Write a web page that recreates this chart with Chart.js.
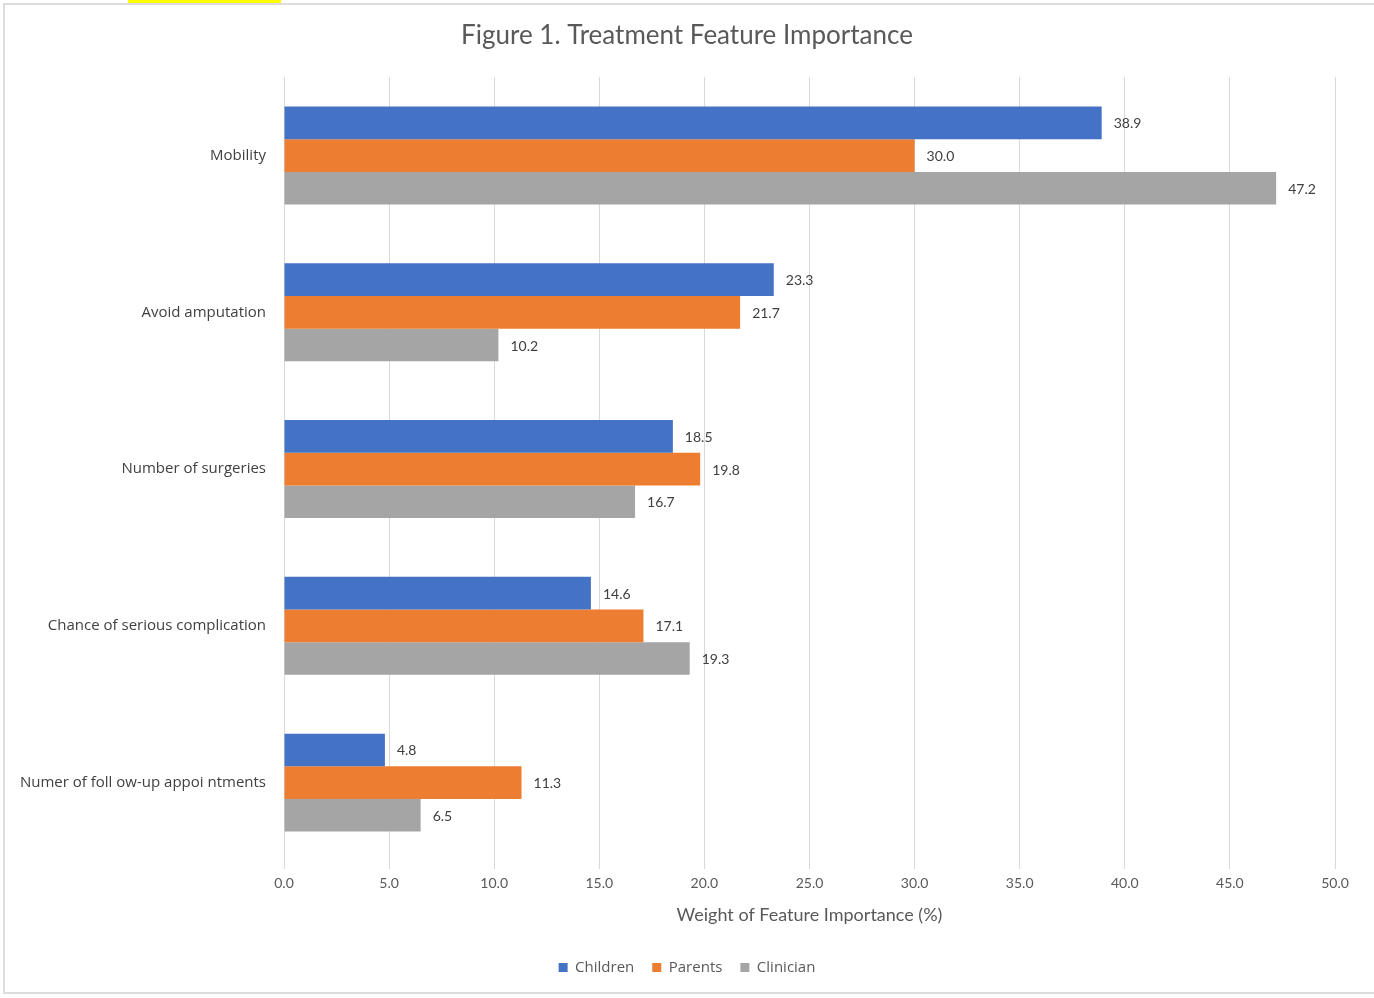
<!DOCTYPE html>
<html>
<head>
<meta charset="utf-8">
<script src="https://cdn.jsdelivr.net/npm/chart.js@4"></script>
<style>
    body { margin: 0; background: #fff; }
    #frame { position: absolute; left: 3px; top: 3px; width: 1372px; height: 991px; border: 2px solid #dcdcdc; border-right: none; box-sizing: border-box; }
    #mark { position: absolute; left: 128px; top: 0; width: 153px; height: 3px; background: #ffff00; }
    #wrap { position: absolute; left: 0; top: 0; width: 1374px; height: 998px; }
</style>
</head>
<body>
<div id="frame"></div>
<div id="mark"></div>
<div id="wrap"><canvas id="chart"></canvas></div>
<script>
const categories = ['Mobility', 'Avoid amputation', 'Number of surgeries', 'Chance of serious complication', 'Numer of foll ow-up appoi ntments'];
const children = [38.9, 23.3, 18.5, 14.6, 4.8];
const parents = [30.0, 21.7, 19.8, 17.1, 11.3];
const clinician = [47.2, 10.2, 16.7, 19.3, 6.5];

const FONT = 'Lato, "Open Sans", sans-serif';
const WIDE = '"Open Sans", Lato, sans-serif';

// value labels at the end of each bar
const barLabels = {
    id: 'barLabels',
    afterDatasetsDraw(chart) {
        const ctx = chart.ctx;
        ctx.save();
        ctx.font = '14px ' + FONT;
        ctx.fillStyle = '#404040';
        ctx.textAlign = 'left';
        ctx.textBaseline = 'middle';
        chart.data.datasets.forEach((ds, i) => {
            chart.getDatasetMeta(i).data.forEach((bar, j) => {
                ctx.fillText(ds.data[j].toFixed(1), bar.x + 12, bar.y + 1);
            });
        });
        ctx.restore();
    }
};

new Chart(document.getElementById('chart'), {
    type: 'bar',
    data: {
        labels: categories,
        datasets: [
            { label: 'Children', data: children, backgroundColor: '#4472C4' },
            { label: 'Parents', data: parents, backgroundColor: '#ED7D31' },
            { label: 'Clinician', data: clinician, backgroundColor: '#A5A5A5' }
        ]
    },
    options: {
        indexAxis: 'y',
        responsive: true,
        maintainAspectRatio: false,
        animation: false,
        categoryPercentage: 0.625,
        barPercentage: 1.0,
        layout: { padding: { left: 0, right: 0, top: 0, bottom: 13 } },
        plugins: {
            title: {
                display: true,
                text: 'Figure 1. Treatment Feature Importance',
                color: '#595959',
                font: { family: FONT, size: 26, weight: 'normal' },
                padding: { top: 20, bottom: 26 }
            },
            legend: {
                position: 'bottom',
                labels: {
                    color: '#595959',
                    font: { family: WIDE, size: 15 },
                    boxWidth: 9,
                    boxHeight: 9,
                    padding: 18
                }
            },
            tooltip: { enabled: false }
        },
        scales: {
            x: {
                min: 0,
                max: 50,
                ticks: {
                    stepSize: 5,
                    color: '#595959',
                    font: { family: FONT, size: 14 },
                    padding: 6,
                    callback: function(value) {
                        return value.toFixed(1);
                    }
                },
                grid: { color: '#d9d9d9', lineWidth: 1, tickLength: 8 },
                border: { display: false },
                title: {
                    display: true,
                    text: 'Weight of Feature Importance (%)',
                    color: '#595959',
                    font: { family: FONT, size: 18 },
                    padding: { top: 8, bottom: 16 }
                },
                afterFit: function(scale) {
                    scale.height = 81;
                }
            },
            y: {
                ticks: {
                    color: '#404040',
                    font: { family: WIDE, size: 15 },
                    padding: 10
                },
                grid: { display: false },
                border: { display: false },
                afterFit: function(scale) {
                    scale.width = 284;
                }
            },
            // empty right margin so the title and legend stay centred on the page
            yRight: {
                type: 'category',
                position: 'right',
                ticks: { display: false },
                grid: { display: false },
                border: { display: false },
                afterFit: function(scale) {
                    scale.width = 39;
                }
            }
        }
    },
    plugins: [barLabels]
});
</script>
</body>
</html>
